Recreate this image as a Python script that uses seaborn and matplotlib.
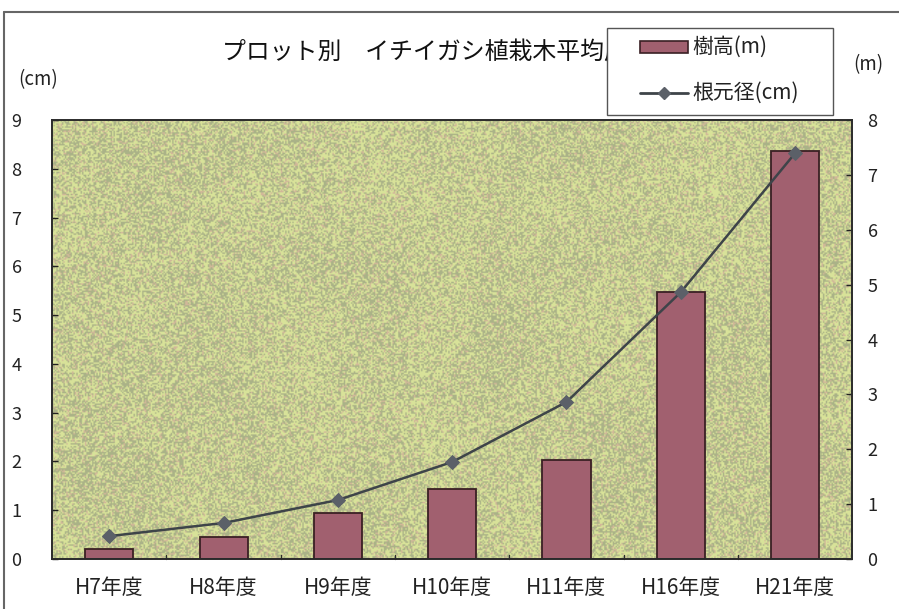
import numpy as np
import pandas as pd
import matplotlib
matplotlib.use("Agg")
import matplotlib.pyplot as plt
from matplotlib.lines import Line2D
from matplotlib.patches import Rectangle
import seaborn as sns

# Survey years, average tree height (m) and average root-collar diameter (cm)
years = ["H7年度", "H8年度", "H9年度", "H10年度", "H11年度", "H16年度", "H21年度"]
height_m = [0.19, 0.40, 0.84, 1.28, 1.81, 4.87, 7.43]
diameter_cm = [0.47, 0.74, 1.21, 1.99, 3.22, 5.47, 8.32]

df = pd.DataFrame({"year": years, "height": height_m, "diameter": diameter_cm})

sns.set_theme(style="white")
plt.rcParams["font.family"] = ["Noto Sans CJK JP", "DejaVu Sans"]

W, H = 899, 609
fig = plt.figure(figsize=(W / 100, H / 100), dpi=100)
fig.patch.set_facecolor("white")


def fx(px):
    return px / W


def fy(py):
    return 1 - py / H


ax = fig.add_axes([0.058, 0.082, 0.890, 0.721])

# Speckled olive texture behind the plot
rng = np.random.default_rng(7)
h, w = 300, 560
light = np.array([0.85, 0.89, 0.60])
dark = np.array([0.67, 0.70, 0.53])
pink = np.array([0.82, 0.72, 0.60])
fine = rng.random((h, w))
coarse = rng.random((8, 14))
coarse = np.kron(coarse, np.ones((h // 8 + 1, w // 14 + 1)))[:h, :w]
k = np.ones(41) / 41
coarse = np.apply_along_axis(lambda r: np.convolve(r, k, mode="same"), 1, coarse)
coarse = np.apply_along_axis(lambda c: np.convolve(c, k, mode="same"), 0, coarse)
coarse = (coarse - coarse.min()) / (np.ptp(coarse) + 1e-9)
thresh = 0.35 + 0.25 * coarse
tex = np.where(fine[..., None] > thresh[..., None], light, dark)
tint = rng.random((h, w))
tex = np.where(tint[..., None] > 0.88, pink, tex)
ax.imshow(tex, extent=[0, 1, 0, 1], transform=ax.transAxes, aspect="auto",
          interpolation="bilinear", zorder=0)

bar_color = "#a1606f"
bar_edge = "#3a2024"
line_color = "#3e4449"
marker_color = "#5b6068"

sns.barplot(data=df, x="year", y="height", ax=ax, color=bar_color,
            width=0.42, edgecolor=bar_edge, linewidth=1.3, saturation=1, zorder=2)
ax.set_ylim(0, 8)
ax.set_xlim(-0.5, len(years) - 0.5)
ax.set_xlabel("")
ax.set_ylabel("")

ax2 = ax.twinx()
sns.lineplot(data=df, x="year", y="diameter", ax=ax2, color=line_color,
             linewidth=1.8, marker="D", markersize=7, markerfacecolor=marker_color,
             markeredgecolor=marker_color, sort=False, zorder=5)
ax2.set_ylim(0, 9)
ax2.set_xlabel("")
ax2.set_ylabel("")

# height axis (m) on the right, diameter axis (cm) on the left
ax.yaxis.set_ticks_position("right")
ax2.yaxis.set_ticks_position("left")
ax.set_yticks(range(0, 9))
ax2.set_yticks(range(0, 10))

for a in (ax, ax2):
    for s in a.spines.values():
        s.set_color("#2b2b2b")
        s.set_linewidth(1.2)

ax.tick_params(axis="y", right=True, left=False, labelright=True, labelleft=False,
               length=4, width=1, direction="in", pad=11, labelsize=13,
               colors="#222222")
ax2.tick_params(axis="y", left=True, right=False, labelleft=True, labelright=False,
                length=4, width=1, direction="in", pad=22, labelsize=13,
                colors="#222222")
ax.tick_params(axis="x", bottom=False, pad=7, labelsize=15, colors="#222222")
ax2.tick_params(axis="x", bottom=False)

# category separators along the base
for i in range(1, len(years)):
    ax.plot([i - 0.5, i - 0.5], [0, 0.08], color="#2b2b2b", lw=1, zorder=3,
            clip_on=False)

fig.text(fx(18), fy(80), "(cm)", fontsize=13.5, ha="left", va="center",
         color="#222222")
fig.text(fx(868), fy(65), "(m)", fontsize=13.5, ha="center", va="center",
         color="#222222")

fig.text(fx(222), fy(52), "プロット別　イチイガシ植栽木平均成長", fontsize=17.2,
         ha="left", va="center", color="#111111", zorder=1)

# legend box, drawn over the end of the title
fig.add_artist(Rectangle((fx(607), fy(115)), fx(833) - fx(607), fy(28) - fy(115),
                         transform=fig.transFigure, facecolor="white",
                         edgecolor="#555555", linewidth=1.0, zorder=10))
fig.add_artist(Rectangle((fx(640), fy(53)), fx(688) - fx(640), fy(41) - fy(53),
                         transform=fig.transFigure, facecolor=bar_color,
                         edgecolor=bar_edge, linewidth=1.2, zorder=11))
fig.add_artist(Line2D([fx(640), fx(688)], [fy(93), fy(93)], color=line_color, lw=2,
                      transform=fig.transFigure, zorder=11))
fig.add_artist(Line2D([fx(664)], [fy(93)], marker="D", markersize=6,
                      markerfacecolor=marker_color, markeredgecolor=marker_color,
                      linestyle="none", transform=fig.transFigure, zorder=12))
fig.text(fx(692), fy(47), "樹高(m)", fontsize=15, ha="left", va="center",
         color="#222222", zorder=12)
fig.text(fx(692), fy(93), "根元径(cm)", fontsize=15, ha="left", va="center",
         color="#222222", zorder=12)

# outer chart border
fig.add_artist(Line2D([0.005, 0.005], [0.0, 0.98], color="#666666", lw=1.5,
                      transform=fig.transFigure))
fig.add_artist(Line2D([0.005, 1.0], [0.98, 0.98], color="#666666", lw=1.5,
                      transform=fig.transFigure))

fig.savefig("out.png", dpi=100)
